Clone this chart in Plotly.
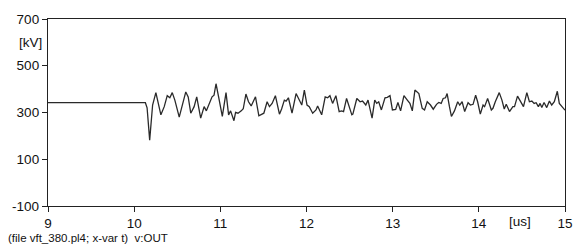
import plotly.graph_objects as go

# time [us]
t = [9.0, 10.13, 10.15, 10.18, 10.214, 10.252, 10.310, 10.349, 10.384, 10.414, 10.442, 10.472,
     10.523, 10.599, 10.627, 10.657, 10.696, 10.726, 10.772, 10.812, 10.838, 10.904, 10.927,
     10.950, 10.980, 11.023, 11.066, 11.096, 11.119, 11.135, 11.158, 11.177, 11.205, 11.243,
     11.266, 11.297, 11.327, 11.358, 11.408, 11.447, 11.482, 11.505, 11.543, 11.570, 11.601,
     11.639, 11.686, 11.711, 11.743, 11.763, 11.790, 11.832, 11.879, 11.917, 11.945, 11.975,
     12.006, 12.032, 12.072, 12.110, 12.129, 12.176, 12.217, 12.245, 12.272, 12.303, 12.341,
     12.379, 12.407, 12.430, 12.465, 12.526, 12.538, 12.584, 12.622, 12.650, 12.688, 12.714,
     12.761, 12.792, 12.815, 12.838, 12.869, 12.911, 12.938, 12.969, 12.997, 13.035, 13.061,
     13.092, 13.131, 13.170, 13.200, 13.228, 13.258, 13.304, 13.343, 13.370, 13.401, 13.439,
     13.471, 13.509, 13.535, 13.563, 13.586, 13.613, 13.632, 13.659, 13.682, 13.717, 13.755,
     13.778, 13.806, 13.836, 13.875, 13.902, 13.933, 13.963, 13.986, 14.017, 14.049, 14.067,
     14.102, 14.145, 14.164, 14.191, 14.237, 14.268, 14.295, 14.318, 14.356, 14.395, 14.414,
     14.449, 14.488, 14.518, 14.557, 14.587, 14.615, 14.642, 14.665, 14.691, 14.711, 14.731,
     14.757, 14.788, 14.819, 14.846, 14.876, 14.911, 14.934, 14.980, 15.0]

# voltage [kV]
v = [342, 342, 320, 182, 332, 385, 290, 325, 372, 363, 385, 353,
     280, 388, 367, 297, 325, 367, 276, 325, 307, 367, 374,
     423, 367, 283, 385, 290, 307, 290, 265, 301, 297, 307,
     316, 379, 346, 328, 367, 286, 293, 297, 346, 325, 339,
     372, 293, 315, 353, 349, 363, 297, 381, 353, 332, 396,
     332, 325, 297, 311, 328, 290, 367, 363, 372, 339, 372,
     304, 307, 304, 360, 290, 293, 360, 346, 349, 332, 353,
     276, 353, 339, 346, 311, 363, 365, 372, 311, 313, 343,
     307, 372, 353, 339, 307, 396, 381, 318, 311, 346, 332,
     314, 335, 343, 339, 360, 363, 381, 325, 283, 307, 346,
     332, 346, 304, 342, 332, 335, 374, 346, 293, 332, 325,
     360, 311, 318, 346, 385, 353, 315, 335, 304, 325, 325,
     370, 346, 325, 385, 346, 349, 339, 342, 325, 339, 321,
     343, 321, 349, 332, 346, 391, 339, 315, 310]

y_ticks = [-100, 100, 300, 500, 700]
y_labels = ["-100", "100", "300", "500", "700"]
x_ticks = [9, 10, 11, 12, 13, 14, 15]
x_labels = ["9", "10", "11", "12", "13", "14", "15"]

font = "Liberation Sans, Arial, sans-serif"

fig = go.Figure()
fig.add_trace(go.Scatter(x=t, y=v, mode="lines",
                         line=dict(color="#2a2a2a", width=1.3),
                         showlegend=False, hoverinfo="skip"))

axis_common = dict(showline=True, linecolor="#222222", linewidth=1.3, mirror=True,
                   showgrid=False, zeroline=False, ticks="outside", ticklen=5,
                   tickcolor="#222222", tickwidth=1,
                   tickfont=dict(family=font, size=13.5, color="#111111"))

fig.update_layout(
    width=588, height=251,
    margin=dict(l=46, r=23, t=16, b=45),
    paper_bgcolor="white", plot_bgcolor="white",
    xaxis=dict(range=[9, 15], tickvals=x_ticks, ticktext=x_labels, **axis_common),
    yaxis=dict(range=[-100, 700], tickvals=y_ticks, ticktext=y_labels, **axis_common),
    annotations=[
        dict(text="[kV]", x=0, xref="paper", xanchor="right", xshift=-4,
             y=600, yref="y", yanchor="middle", showarrow=False,
             font=dict(family=font, size=13.5, color="#111111")),
        dict(text="[us]", x=14.48, xref="x", xanchor="center",
             y=0, yref="paper", yanchor="top", yshift=-6, showarrow=False,
             font=dict(family=font, size=13.5, color="#111111")),
        dict(text="(file vft_380.pl4; x-var t)  v:OUT", x=-0.082, xref="paper",
             xanchor="left", y=-0.17, yref="paper", yanchor="middle",
             showarrow=False, font=dict(family=font, size=11.5, color="#111111")),
    ],
)

fig.write_html("out.html")
